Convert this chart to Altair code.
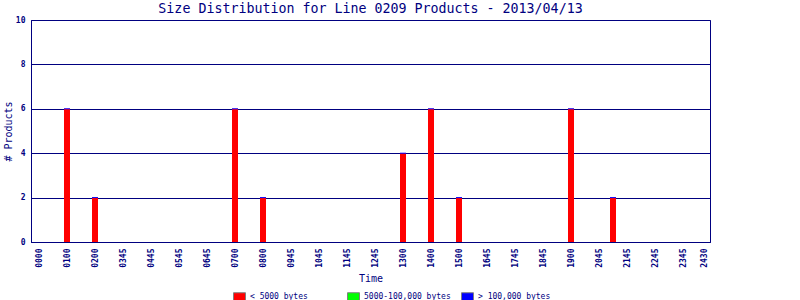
import altair as alt
import pandas as pd

# ---- data ----
hours = [1, 2, 7, 8, 13, 14, 15, 19, 20.5]
small = [6, 2, 6, 2, 4, 6, 2, 6, 2]
medium = [0, 0, 0, 0, 0, 0, 0, 0, 0]
large = [0, 0, 0, 0, 0, 0, 0, 0, 0]

series = ["< 5000 bytes", "5000-100,000 bytes", "> 100,000 bytes"]
colors = ["#FF0000", "#00FF00", "#0000FF"]

tick_pos = list(range(24)) + [23.75]
tick_lab = ["0000", "0100", "0200", "0345", "0445", "0545", "0645", "0700",
            "0800", "0945", "1045", "1145", "1245", "1300", "1400", "1500",
            "1645", "1745", "1845", "1900", "2045", "2145", "2245", "2345",
            "2430"]

rows = []
for h, a, b, c in zip(hours, small, medium, large):
    for s, v in zip(series, [a, b, c]):
        rows.append({"hour": h, "size": s, "count": v})
df = pd.DataFrame(rows)
tops = pd.DataFrame({"hour": hours, "total": [a + b + c for a, b, c in zip(small, medium, large)]})

NAVY = "#000080"
FONT = "DejaVu Sans Mono"

lab_arr = "[" + ",".join("'%s'" % t for t in tick_lab) + "]"
label_expr = f"{lab_arr}[datum.value > 23.5 ? 24 : round(datum.value)]"

xscale = alt.Scale(domain=[-8 / 28, 671 / 28], nice=False, zero=False, padding=0)
yscale = alt.Scale(domain=[0, 10], nice=False, padding=0)

xaxis = alt.Axis(values=tick_pos, labelExpr=label_expr, title="Time",
                 labelAngle=270, labelFont=FONT, labelFontSize=8,
                 labelFontWeight="bold", labelColor=NAVY, labelPadding=6,
                 ticks=False, grid=False, domainColor=NAVY,
                 titleFont=FONT, titleFontSize=10, titleFontWeight="normal",
                 titleColor=NAVY, titlePadding=6, labelOverlap=False,
                 labelBound=False, labelFlush=False)
yaxis = alt.Axis(values=[0, 2, 4, 6, 8, 10], title="# Products",
                 labelFont=FONT, labelFontSize=8, labelFontWeight="bold",
                 labelColor=NAVY, labelPadding=6, ticks=False,
                 grid=True, gridColor=NAVY, gridOpacity=1, gridWidth=1,
                 domainColor=NAVY, titleFont=FONT, titleFontSize=10,
                 titleFontWeight="normal", titleColor=NAVY, titlePadding=2,
                 labelOverlap=False)

bars = alt.Chart(df).mark_bar(size=6).encode(
    x=alt.X("hour:Q", scale=xscale, axis=xaxis),
    y=alt.Y("count:Q", stack="zero", scale=yscale, axis=yaxis),
    color=alt.Color("size:N", scale=alt.Scale(domain=series, range=colors),
                    sort=series,
                    legend=alt.Legend(title=None, orient="none", legendX=202, legendY=270,
                                      direction="horizontal", columns=3, gridAlign="all",
                                      columnPadding=8,
                                      symbolType="M-1,-0.667H1V0.667H-1Z",
                                      symbolSize=144, symbolStrokeColor="#808080",
                                      symbolStrokeWidth=1, symbolOpacity=1,
                                      labelFont=FONT, labelFontSize=8, labelColor=NAVY,
                                      labelOffset=4)),
)

caps = alt.Chart(tops).mark_tick(orient="horizontal", size=6, thickness=1,
                                 color="#0000FF", opacity=1).encode(
    x=alt.X("hour:Q", scale=xscale, axis=xaxis),
    y=alt.Y("total:Q", scale=yscale, axis=yaxis),
)

chart = alt.layer(bars, caps).properties(
    width=679, height=222,
    autosize=alt.AutoSizeParams(type="none"),
    padding={"left": 31, "top": 20, "right": 90, "bottom": 58},
    title=alt.Title("Size Distribution for Line 0209 Products - 2013/04/13",
                    font=FONT, fontSize=13.3, fontWeight="normal", color=NAVY,
                    anchor="middle", offset=5, dy=4),
    background="white",
).configure_view(stroke=NAVY, strokeWidth=1)

chart.save("out.html", embed_options={"renderer": "svg", "actions": False})
